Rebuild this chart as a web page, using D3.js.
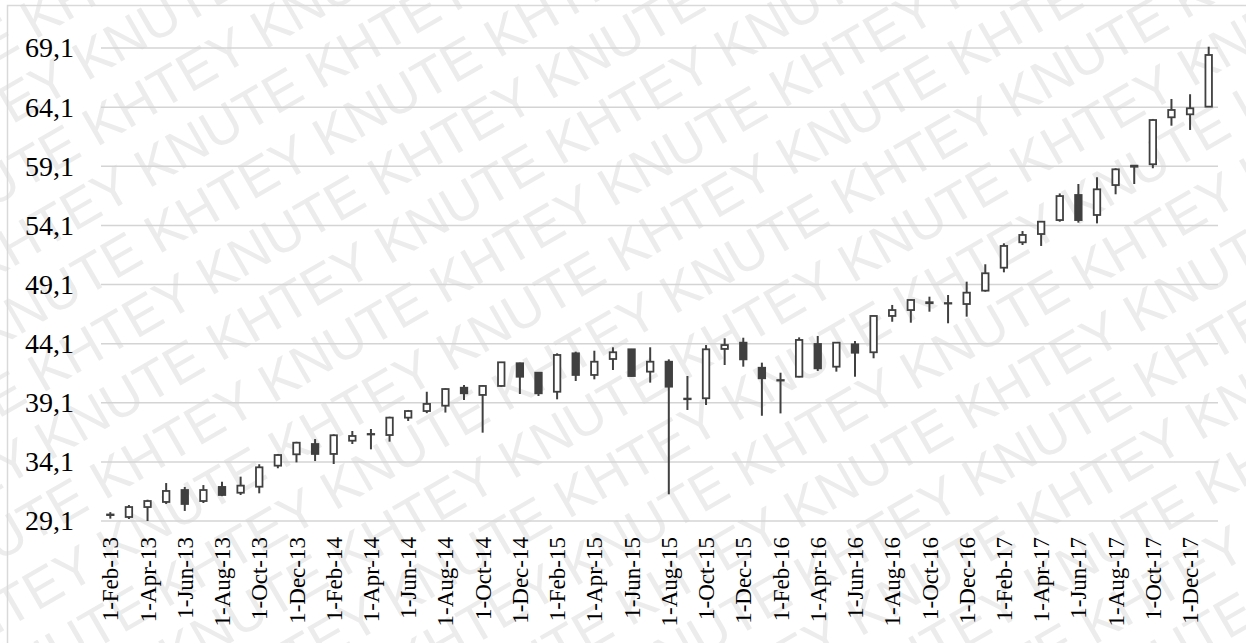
<!DOCTYPE html>
<html>
<head>
<meta charset="utf-8">
<script src="https://cdn.jsdelivr.net/npm/d3@7"></script>
<style>
  body { margin: 0; background: #fff; }
  svg { display: block; }
  .lbl { font-family: "Liberation Serif", "Times New Roman", "DejaVu Serif", serif; fill: #000; }
  .wm { font-family: "Liberation Sans", Arial, sans-serif; }
</style>
</head>
<body>
<svg id="chart"></svg>
<script>
// monthly candles, Feb 2013 .. Jan 2018
const months = ["1-Feb-13","1-Mar-13","1-Apr-13","1-May-13","1-Jun-13","1-Jul-13","1-Aug-13","1-Sep-13","1-Oct-13","1-Nov-13","1-Dec-13",
  "1-Jan-14","1-Feb-14","1-Mar-14","1-Apr-14","1-May-14","1-Jun-14","1-Jul-14","1-Aug-14","1-Sep-14","1-Oct-14","1-Nov-14","1-Dec-14",
  "1-Jan-15","1-Feb-15","1-Mar-15","1-Apr-15","1-May-15","1-Jun-15","1-Jul-15","1-Aug-15","1-Sep-15","1-Oct-15","1-Nov-15","1-Dec-15",
  "1-Jan-16","1-Feb-16","1-Mar-16","1-Apr-16","1-May-16","1-Jun-16","1-Jul-16","1-Aug-16","1-Sep-16","1-Oct-16","1-Nov-16","1-Dec-16",
  "1-Jan-17","1-Feb-17","1-Mar-17","1-Apr-17","1-May-17","1-Jun-17","1-Jul-17","1-Aug-17","1-Sep-17","1-Oct-17","1-Nov-17","1-Dec-17",
  "1-Jan-18"];

const open  = [29.6,29.44,30.28,30.71,31.72,30.79,31.98,31.49,32.0,33.78,34.74,
  35.61,34.77,35.89,36.42,36.37,37.84,38.4,38.85,40.37,39.76,40.52,42.44,
  41.64,40.03,43.28,41.45,42.8,43.62,41.73,42.57,39.45,39.48,43.65,44.18,
  42.06,41.02,41.3,44.07,42.15,44.04,43.37,46.44,46.94,47.6,47.53,47.45,
  48.58,50.52,52.67,53.37,54.55,56.67,54.98,57.51,59.06,59.27,63.24,63.49,
  64.14];
const high  = [29.85,30.45,30.9,32.31,31.98,32.14,32.42,32.85,33.9,34.77,35.8,
  36.03,36.43,36.71,36.88,37.92,38.49,40.03,40.32,40.6,40.58,42.55,42.49,
  41.7,43.28,43.42,43.5,43.79,43.65,43.79,42.77,41.36,43.98,44.55,44.6,
  42.49,41.64,44.63,44.75,44.2,44.32,46.48,47.37,47.85,48.07,48.21,49.34,
  50.81,52.58,53.62,54.46,56.8,57.6,58.17,58.93,59.15,63.1,64.79,65.19,
  69.21];
const low   = [29.3,29.27,29.1,30.54,29.95,30.62,31.2,31.3,31.44,33.56,34.06,
  34.17,33.92,35.61,35.16,35.81,37.56,38.22,38.27,39.33,36.57,40.45,39.84,
  39.67,39.39,40.94,41.08,41.87,41.3,40.8,31.36,38.49,38.91,42.29,42.15,
  38.0,38.2,41.25,41.79,41.73,41.3,42.86,45.95,45.87,46.8,45.82,46.38,
  48.49,50.13,52.44,52.36,54.41,54.33,54.27,56.73,57.6,58.93,62.53,62.17,
  64.11];
const close = [29.65,30.28,30.79,31.64,30.54,31.72,31.3,32.09,33.64,34.68,35.72,
  34.77,36.35,36.29,36.46,37.84,38.4,39.0,40.26,39.9,40.52,42.52,41.3,
  39.9,43.14,41.45,42.57,43.37,41.36,42.57,40.46,39.4,43.62,43.98,42.77,
  41.17,40.98,44.41,42.01,44.18,43.33,46.44,46.94,47.79,47.52,47.49,48.41,
  50.05,52.36,53.29,54.41,56.58,54.55,57.15,58.84,59.15,63.01,63.86,64.0,
  68.51];

const yTicks = [29.1,34.1,39.1,44.1,49.1,54.1,59.1,64.1,69.1];

const width = 1246, height = 643;
const plot = {left: 101, right: 1218, top: 48, bottom: 521};

const svg = d3.select('#chart')
  .attr('width', width)
  .attr('height', height);

// watermark behind everything, clipped to the page
svg.append('clipPath').attr('id', 'page')
  .append('rect').attr('width', width).attr('height', height);
const wm = svg.append('g')
  .attr('clip-path', 'url(#page)')
  .append('g')
  .attr('class', 'wm')
  .attr('transform', `rotate(-30, ${width / 2}, ${height / 2})`)
  .attr('font-size', 54)
  .attr('fill', '#ececec');
const wmText = d3.range(12).map(() => 'KHTEY KNUTE').join(' ');
for (let r = -9; r <= 9; r++) {
  wm.append('text')
    .attr('x', -700 + (r % 2 === 0 ? 0 : 170))
    .attr('y', height / 2 + r * 62 + 20)
    .text(wmText);
}

// frame
svg.append('rect')
  .attr('x', 7.5).attr('y', 5.5)
  .attr('width', width + 20).attr('height', height + 20)
  .attr('fill', 'none')
  .attr('stroke', '#d9d9d9')
  .attr('stroke-width', 1.5);

const data = months.map((m, i) => ({m, o: open[i], h: high[i], l: low[i], c: close[i]}));

const x = d3.scaleBand().domain(months).range([plot.left, plot.right]);
const y = d3.scaleLinear().domain([29.1, 69.1]).range([plot.bottom, plot.top]);

const comma = d3.formatLocale({decimal: ',', thousands: ' ', grouping: [3], currency: ['', '']}).format('.1f');

// gridlines
svg.append('g')
  .selectAll('line')
  .data(yTicks)
  .join('line')
  .attr('x1', plot.left).attr('x2', plot.right)
  .attr('y1', d => y(d)).attr('y2', d => y(d))
  .attr('stroke', '#d4d4d4')
  .attr('stroke-width', 1.5);

// y axis labels
const axisLeft = d3.axisLeft(y).tickValues(yTicks).tickFormat(comma).tickSize(0).tickPadding(27);
svg.append('g')
  .attr('transform', `translate(${plot.left},0)`)
  .call(axisLeft)
  .attr('font-family', null)
  .call(g => g.select('.domain').remove())
  .call(g => g.selectAll('text')
    .attr('class', 'lbl')
    .attr('fill', null)
    .style('font-size', '28px'));

// x axis labels, every second month
const axisBottom = d3.axisBottom(x).tickValues(months.filter((_, i) => i % 2 === 0)).tickSize(0);
svg.append('g')
  .attr('transform', `translate(0,${plot.bottom})`)
  .call(axisBottom)
  .attr('font-family', null)
  .call(g => g.select('.domain').remove())
  .call(g => g.selectAll('text')
    .attr('class', 'lbl')
    .attr('fill', null)
    .style('font-size', '23px')
    .attr('text-anchor', 'end')
    .attr('transform', 'rotate(-90)')
    .attr('x', -16)
    .attr('y', 0)
    .attr('dy', '0.35em'));

// candles
const ink = '#404040';
const boxW = 6.5;
const candles = svg.append('g')
  .selectAll('g')
  .data(data)
  .join('g')
  .attr('transform', d => `translate(${x(d.m) + x.bandwidth() / 2},0)`);

candles.append('line')
  .attr('y1', d => y(d.h))
  .attr('y2', d => y(d.l))
  .attr('stroke', ink)
  .attr('stroke-width', 2);

candles.append('rect')
  .attr('x', -boxW / 2)
  .attr('width', boxW)
  .attr('y', d => y(Math.max(d.o, d.c)))
  .attr('height', d => Math.max(0.5, Math.abs(y(d.o) - y(d.c))))
  .attr('fill', d => d.c >= d.o ? '#fff' : ink)
  .attr('stroke', ink)
  .attr('stroke-width', 1.8);
</script>
</body>
</html>
